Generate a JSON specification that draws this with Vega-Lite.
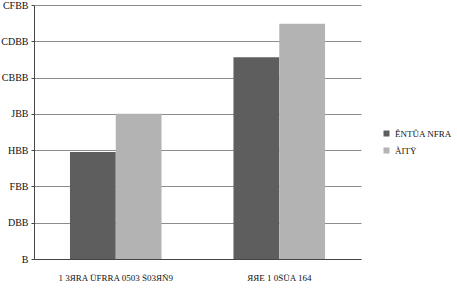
{
  "$schema": "https://vega.github.io/schema/vega-lite/v6.json",
  "autosize": "none",
  "width": 327,
  "height": 254,
  "padding": {"left": 34, "top": 5, "right": 96, "bottom": 41},
  "background": "white",
  "data": {
    "values": [
      {"group": "1 3ЯRA ÜFRRA 0503 Š03ЯÑ9", "series": "ÊNTÛA NFRA", "value": 590},
      {"group": "1 3ЯRA ÜFRRA 0503 Š03ЯÑ9", "series": "ÀITŸ", "value": 800},
      {"group": "ЯЯЕ 1 0ŠÜA 164", "series": "ÊNTÛA NFRA", "value": 1112},
      {"group": "ЯЯЕ 1 0ŠÜA 164", "series": "ÀITŸ", "value": 1296}
    ]
  },
  "config": {
    "view": {"stroke": null},
    "font": "Liberation Serif"
  },
  "mark": {"type": "bar"},
  "encoding": {
    "x": {
      "field": "group",
      "type": "nominal",
      "sort": null,
      "title": null,
      "scale": {"paddingInner": 0.44, "paddingOuter": 0.22},
      "axis": {
        "labelAngle": 0,
        "labelFont": "Liberation Serif",
        "labelFontSize": 9,
        "labelColor": "#111111",
        "labelPadding": 14,
        "ticks": false,
        "domainColor": "#444444",
        "domainWidth": 1
      }
    },
    "xOffset": {"field": "series", "type": "nominal", "sort": ["ÊNTÛA NFRA", "ÀITŸ"]},
    "y": {
      "field": "value",
      "type": "quantitative",
      "title": null,
      "scale": {"domain": [0, 1400], "nice": false},
      "axis": {
        "values": [0, 200, 400, 600, 800, 1000, 1200, 1400],
        "format": "d",
        "labelExpr": "replace(replace(replace(replace(replace(replace(datum.label, regexp('0','g'), 'B'), regexp('1','g'), 'C'), regexp('2','g'), 'D'), regexp('4','g'), 'F'), regexp('6','g'), 'H'), regexp('8','g'), 'J')",
        "labelFont": "Liberation Serif",
        "labelFontSize": 10,
        "labelColor": "#111111",
        "labelPadding": 3,
        "tickSize": 3,
        "tickColor": "#444444",
        "domainColor": "#444444",
        "gridColor": "#8c8c8c",
        "gridWidth": 1
      }
    },
    "color": {
      "field": "series",
      "type": "nominal",
      "sort": ["ÊNTÛA NFRA", "ÀITŸ"],
      "scale": {"range": ["#5e5e5e", "#b3b3b3"]},
      "legend": {
        "title": null,
        "orient": "none",
        "legendX": 348,
        "legendY": 124,
        "symbolType": "square",
        "symbolSize": 36,
        "symbolStrokeWidth": 0,
        "labelFont": "Liberation Serif",
        "labelFontSize": 9,
        "labelLimit": 0,
        "labelColor": "#111111",
        "rowPadding": 7,
        "labelOffset": 4
      }
    }
  }
}
